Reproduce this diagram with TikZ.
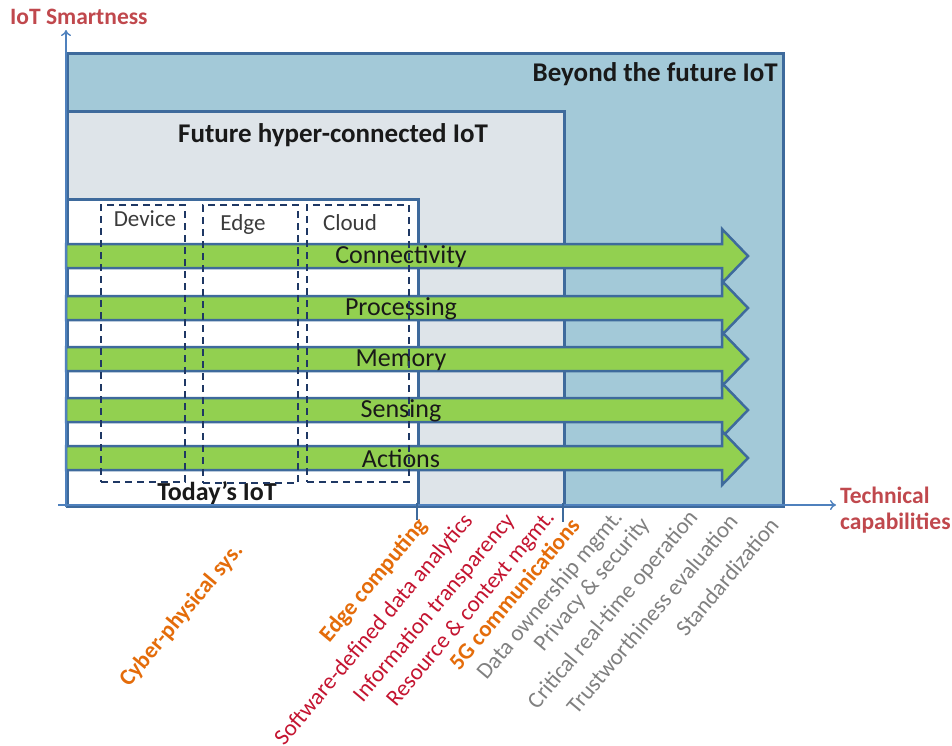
\documentclass[tikz,border=0pt]{standalone}
\usepackage{fontspec}
\setmainfont{Carlito}
\usetikzlibrary{arrows.meta}
\definecolor{boxblue}{RGB}{62,106,156}
\definecolor{outerfill}{RGB}{163,201,216}
\definecolor{midfill}{RGB}{222,228,233}
\definecolor{arrowgreen}{RGB}{146,208,80}
\definecolor{axisblue}{RGB}{79,129,189}
\definecolor{dashnavy}{RGB}{31,56,100}
\definecolor{labred}{RGB}{192,72,77}
\definecolor{capred}{RGB}{196,20,48}
\definecolor{caporange}{RGB}{228,108,10}
\definecolor{capgray}{RGB}{128,128,128}
\definecolor{txt}{RGB}{25,25,25}
\tikzset{
  box/.style={draw=boxblue, line width=3pt, anchor=north west, inner sep=0pt},
  dashbox/.style={draw=dashnavy, line width=2.2pt, dash pattern=on 7pt off 5pt, anchor=north west, inner sep=0pt},
  title/.style={font=\fontsize{27}{32}\selectfont\bfseries, text=txt, inner sep=0pt},
  barlabel/.style={font=\fontsize{26}{30}\selectfont, text=txt, inner sep=0pt},
  collabel/.style={font=\fontsize{23}{26}\selectfont, text=txt!85, inner sep=0pt},
  axislabel/.style={font=\fontsize{23.5}{26}\selectfont\bfseries, text=labred, inner sep=0pt},
  caplabel/.style={font=\fontsize{23}{26}\selectfont, anchor=east, rotate=50, inner sep=0pt},
  capbold/.style={caplabel, font=\fontsize{23}{26}\selectfont\bfseries, text=caporange},
  axisline/.style={draw=axisblue, line width=1.4pt, -{To[length=6pt,width=10pt]}},
  tickline/.style={draw=boxblue, line width=2pt},
}
\begin{document}
\begin{tikzpicture}[x=1pt,y=-1pt]
\useasboundingbox (0,0) rectangle (952,745);
% boxes
\node[box, fill=outerfill, minimum width=716pt, minimum height=453pt] (outer) at (66,52) {};
\node[box, fill=midfill, minimum width=497pt, minimum height=395pt] (mid) at (66,110) {};
\node[box, fill=white, minimum width=351pt, minimum height=307pt] (today) at (66,198) {};
\node[title, anchor=east] (tbeyond) at (778,74) {Beyond the future IoT};
\node[title] (tfuture) at (333,135) {Future hyper-connected IoT};
\node[title, font=\fontsize{26}{30}\selectfont\bfseries] (ttoday) at (217,493) {Today’s IoT};
% green arrows
\foreach \c/\name in {256/Connectivity,308/Processing,359/Memory,410/Sensing,458/Actions}{
  \draw[draw=boxblue, line width=2.5pt, fill=arrowgreen, line join=miter]
    (66,\c-12) -- (722,\c-12) -- (722,\c-27) -- (748,\c) -- (722,\c+27) -- (722,\c+12) -- (66,\c+12) -- cycle;
  \node[barlabel] (l\name) at (401,\c+1) {\name};
}
% dashed boxes
\node[dashbox, minimum width=84pt, minimum height=277pt] (device) at (100,204) {};
\node[dashbox, minimum width=95pt, minimum height=278pt] (edge) at (202,204) {};
\node[dashbox, minimum width=102pt, minimum height=277pt] (cloud) at (306,204) {};
\node[collabel] (ldevice) at (145,219) {Device};
\node[collabel] (ledge) at (243,224) {Edge};
\node[collabel] (lcloud) at (350,223) {Cloud};
% axes
\coordinate (o) at (66,507);
\coordinate (ytop) at (66,30);
\coordinate (xleft) at (58,505);
\coordinate (xright) at (836,505);
\draw[axisline] (o) -- (ytop);
\draw[axisline] (xleft) -- (xright);
\coordinate (t1a) at (417,503); \coordinate (t1b) at (417,520);
\coordinate (t2a) at (563,503); \coordinate (t2b) at (563,522);
\draw[tickline] (t1a) -- (t1b);
\draw[tickline] (t2a) -- (t2b);
\node[axislabel, anchor=west] (ylab) at (10,17) {IoT Smartness};
\node[axislabel, anchor=west, align=left] (xlab) at (840,510) {Technical\\capabilities};
% capability labels
\node[capbold] (c1) at (239,547) {Cyber-physical sys.};
\node[capbold] (c2) at (423,522) {Edge computing};
\node[caplabel, text=capred] (c3) at (469,517) {Software-defined data analytics};
\node[caplabel, text=capred] (c4) at (511,517) {Information transparency};
\node[caplabel, text=capred] (c5) at (551,514) {Resource \& context mgmt.};
\node[capbold] (c6) at (575,521) {5G communications};
\node[caplabel, text=capgray] (c7) at (619,514) {Data ownership mgmt.};
\node[caplabel, text=capgray] (c8) at (646,521) {Privacy \& security};
\node[caplabel, text=capgray] (c9) at (694,514) {Critical real-time operation};
\node[caplabel, text=capgray] (c10) at (733,517) {Trustworthiness evaluation};
\node[caplabel, text=capgray] (c11) at (774,521) {Standardization};
\end{tikzpicture}
\end{document}
